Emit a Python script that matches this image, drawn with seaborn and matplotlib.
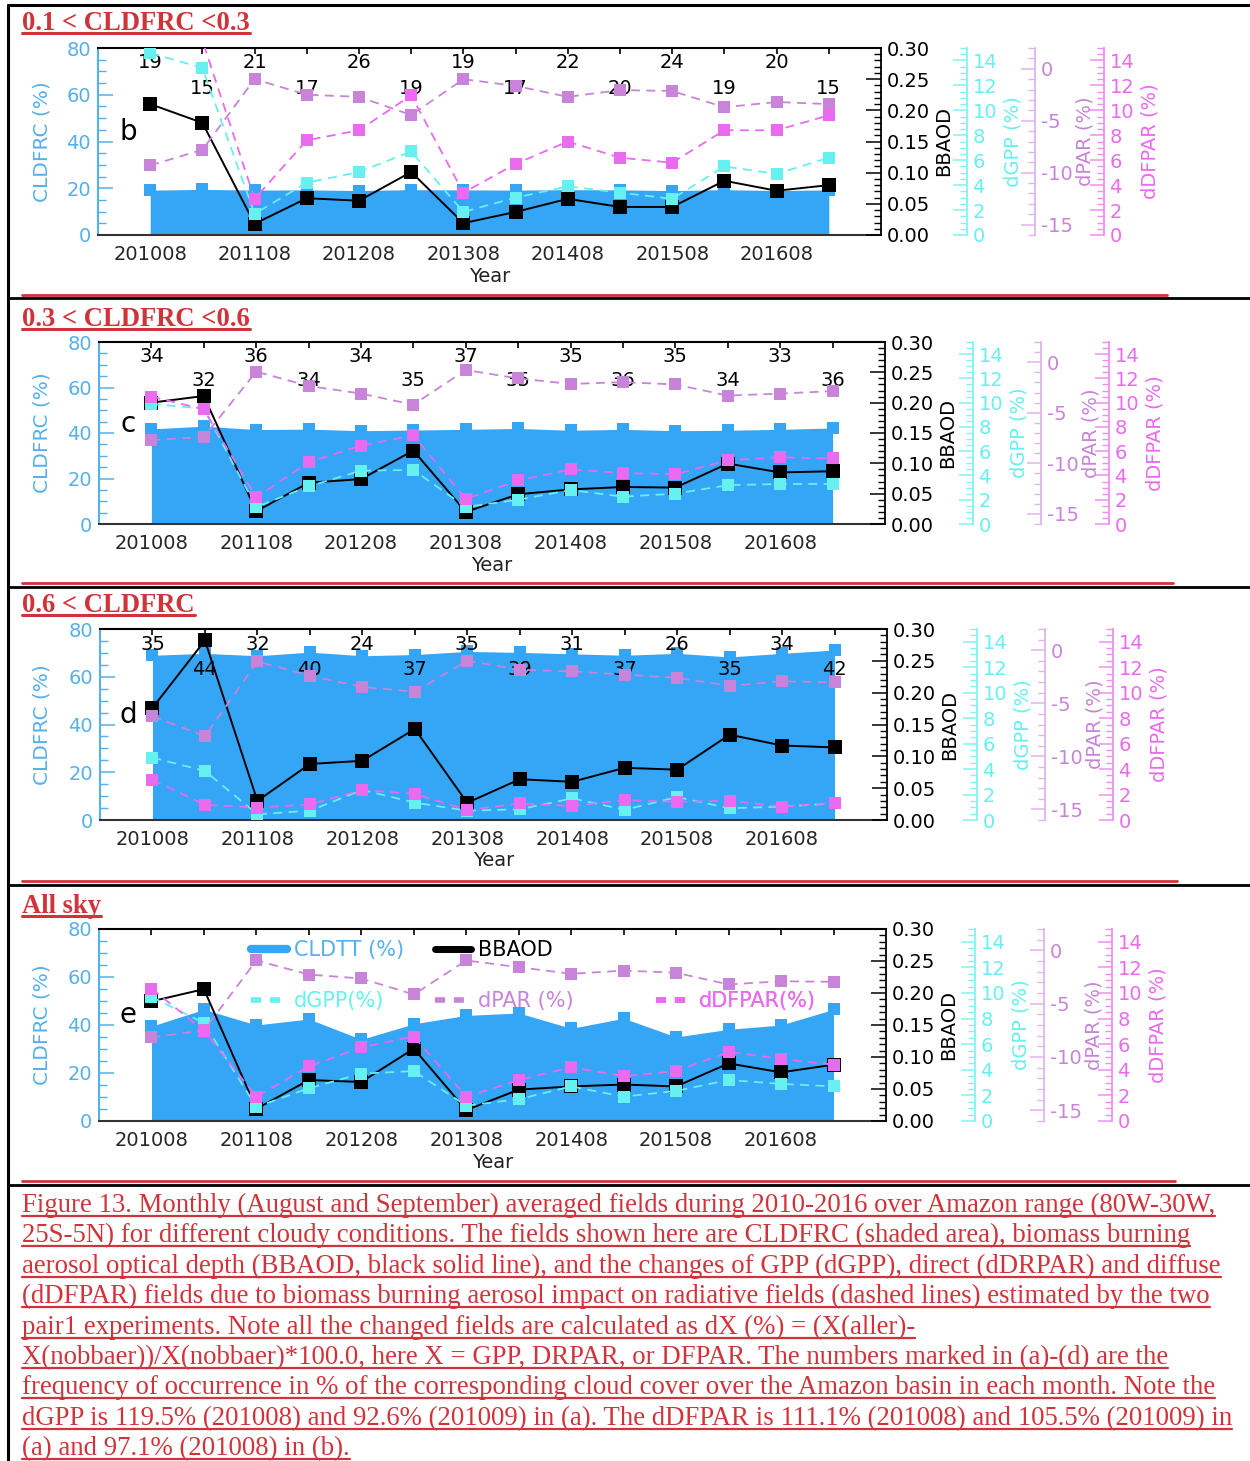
import numpy as np
import matplotlib
matplotlib.use("Agg")
import matplotlib.pyplot as plt
import seaborn as sns
from matplotlib.lines import Line2D
from matplotlib.ticker import MultipleLocator, FormatStrFormatter

sns.set_theme(style="white")
plt.rcParams["font.family"] = ["DejaVu Sans"]

# ---- data ----
months = ["201008", "201009", "201108", "201109", "201208", "201209", "201308",
          "201309", "201408", "201409", "201508", "201509", "201608", "201609"]

freq_b = [19, 15, 21, 17, 26, 19, 19, 17, 22, 20, 24, 19, 20, 15]
freq_c = [34, 32, 36, 34, 34, 35, 37, 35, 35, 36, 35, 34, 33, 36]
freq_d = [35, 44, 32, 40, 24, 37, 35, 39, 31, 37, 26, 35, 34, 42]

cld_b = [19.2, 19.5, 19.2, 19.3, 19.0, 19.4, 19.3, 19.2, 19.4, 19.3, 19.0, 19.4, 19.0, 19.3]
cld_c = [41.8, 43.0, 41.5, 41.7, 41.0, 41.3, 41.6, 42.0, 41.2, 41.6, 41.0, 41.2, 41.6, 42.2]
cld_d = [69.0, 69.8, 68.8, 70.3, 68.8, 69.3, 70.6, 70.2, 69.6, 69.0, 69.8, 68.3, 69.8, 71.2]
cld_e = [39.5, 46.5, 40.0, 42.5, 34.0, 40.5, 44.0, 45.0, 38.6, 42.8, 35.0, 38.2, 40.0, 46.5]

aod_b = [0.210, 0.180, 0.018, 0.059, 0.055, 0.101, 0.019, 0.037, 0.058, 0.045, 0.045, 0.087, 0.071, 0.080]
aod_c = [0.200, 0.211, 0.021, 0.068, 0.074, 0.121, 0.020, 0.049, 0.057, 0.061, 0.060, 0.0996, 0.085, 0.087]
aod_d = [0.176, 0.282, 0.030, 0.088, 0.093, 0.143, 0.027, 0.064, 0.060, 0.082, 0.079, 0.134, 0.117, 0.114]
aod_e = [0.187, 0.206, 0.019, 0.064, 0.061, 0.113, 0.017, 0.049, 0.054, 0.057, 0.054, 0.090, 0.076, 0.088]

gpp_b = [14.6, 13.4, 1.7, 4.2, 5.05, 6.7, 1.85, 3.0, 3.9, 3.4, 2.9, 5.5, 4.9, 6.2]
gpp_c = [9.9, 9.5, 1.4, 3.1, 4.4, 4.45, 1.4, 2.0, 2.8, 2.25, 2.5, 3.2, 3.3, 3.3]
gpp_d = [4.9, 3.85, 0.45, 0.73, 2.36, 1.36, 0.73, 0.84, 1.7, 0.8, 1.8, 0.92, 1.05, 1.3]
gpp_e = [9.7, 7.65, 1.1, 2.56, 3.7, 3.9, 1.2, 1.7, 2.7, 1.9, 2.35, 3.2, 2.9, 2.7]

par_b = [-9.3, -7.8, -1.0, -2.5, -2.7, -4.45, -1.0, -1.65, -2.7, -2.05, -2.14, -3.7, -3.2, -3.4]
par_c = [-7.7, -7.4, -0.93, -2.35, -3.1, -4.2, -0.77, -1.6, -2.15, -1.97, -2.2, -3.3, -3.1, -2.86]
par_d = [-6.2, -8.1, -1.06, -2.4, -3.47, -3.9, -1.0, -1.84, -2.0, -2.3, -2.6, -3.35, -2.93, -3.03]
par_e = [-8.16, -7.5, -0.95, -2.27, -2.64, -4.14, -0.95, -1.58, -2.2, -1.9, -2.1, -3.2, -2.9, -2.95]

dfpar_b = [97.1, 15.6, 2.9, 7.6, 8.4, 11.2, 3.4, 5.7, 7.5, 6.2, 5.8, 8.4, 8.4, 9.6]
dfpar_c = [10.5, 9.45, 2.2, 5.1, 6.45, 7.3, 2.06, 3.6, 4.5, 4.2, 4.1, 5.25, 5.5, 5.4]
dfpar_d = [3.15, 1.2, 0.97, 1.23, 2.36, 2.05, 0.79, 1.3, 1.1, 1.57, 1.42, 1.52, 1.05, 1.36]
dfpar_e = [10.35, 7.05, 1.9, 4.26, 5.75, 6.6, 1.9, 3.2, 4.2, 3.5, 3.9, 5.4, 4.86, 4.4]

caption = [
    "Figure 13. Monthly (August and September) averaged fields during 2010-2016 over Amazon range (80W-30W,",
    "25S-5N) for different cloudy conditions. The fields shown here are CLDFRC (shaded area), biomass burning",
    "aerosol optical depth (BBAOD, black solid line), and the changes of GPP (dGPP), direct (dDRPAR) and diffuse",
    "(dDFPAR) fields due to biomass burning aerosol impact on radiative fields (dashed lines) estimated by the two",
    "pair1 experiments. Note all the changed fields are calculated as dX (%) = (X(aller)-",
    "X(nobbaer))/X(nobbaer)*100.0, here X = GPP, DRPAR, or DFPAR. The numbers marked in (a)-(d) are the",
    "frequency of occurrence in % of the corresponding cloud cover over the Amazon basin in each month. Note the",
    "dGPP is 119.5% (201008) and 92.6% (201009) in (a). The dDFPAR is 111.1% (201008) and 105.5% (201009) in",
    "(a) and 97.1% (201008) in (b).",
]

# ---- styles ----
FILL = "#35a5f5"
LEFTC = "#55b0ee"
CYAN = "#66f0f0"
CYAN_AX = "#80f4f4"
PLUM = "#c884d8"
PLUM_AX = "#e2b4ec"
MAG = "#ea6af0"
MAG_AX = "#f08ef4"
RED = "#d0343a"
W, H = 1250, 1461

panels = [
    dict(title="0.1 < CLDFRC <0.3", tb=30, letter="b", box=(98, 48, 881, 235),
         sp=(967, 1035, 1104), cld=cld_b, aod=aod_b, gpp=gpp_b, par=par_b, dfpar=dfpar_b,
         freq=freq_b, rule=(295, 1167), sep=298),
    dict(title="0.3 < CLDFRC <0.6", tb=326, letter="c", box=(99, 342, 885, 524),
         sp=(973, 1041, 1109), cld=cld_c, aod=aod_c, gpp=gpp_c, par=par_c, dfpar=dfpar_c,
         freq=freq_c, rule=(583, 1173), sep=587),
    dict(title="0.6 < CLDFRC", tb=612, letter="d", box=(100, 629, 887, 820),
         sp=(977, 1045, 1113), cld=cld_d, aod=aod_d, gpp=gpp_d, par=par_d, dfpar=dfpar_d,
         freq=freq_d, rule=(881, 1177), sep=885),
    dict(title="All sky", tb=913, letter="e", box=(99, 929, 886, 1121),
         sp=(975, 1044, 1112), cld=cld_e, aod=aod_e, gpp=gpp_e, par=par_e, dfpar=dfpar_e,
         freq=None, rule=(1181, 1175), sep=1185),
]

fig = plt.figure(figsize=(W / 100, H / 100), dpi=100)
fig.patch.set_facecolor("white")


def hline(y, x0, x1, color, lw):
    fig.add_artist(Line2D([x0 / W, x1 / W], [1 - y / H, 1 - y / H],
                          transform=fig.transFigure, color=color, lw=lw))


def style_twin(a, color, axcolor, pos, lo, hi, major, minor, fmt, label, lab_x):
    for s in ("left", "top", "bottom"):
        a.spines[s].set_visible(False)
    a.spines["right"].set_position(("axes", pos))
    a.spines["right"].set_color(axcolor)
    a.spines["right"].set_linewidth(1.3)
    a.set_ylim(lo, hi)
    a.yaxis.set_major_locator(MultipleLocator(major))
    a.yaxis.set_minor_locator(MultipleLocator(minor))
    a.yaxis.set_major_formatter(FormatStrFormatter(fmt))
    a.tick_params(axis="y", which="major", direction="in", length=10, width=1.1,
                  color=axcolor, labelcolor=color, labelsize=14, pad=4)
    a.tick_params(axis="y", which="minor", direction="in", length=5, width=1.0, color=axcolor)
    a.set_ylabel(label, color=color, fontsize=14)
    a.yaxis.set_label_coords(lab_x, 0.5)
    a.yaxis.label.set_va("center")
    a.grid(False)


x = np.arange(len(months))
dash = (0, (5, 3.5))

for p in panels:
    l, t, r, b = p["box"]
    wpx = r - l
    ax = fig.add_axes([l / W, 1 - b / H, wpx / W, (b - t) / H])
    ax.set_facecolor("none")
    ax.fill_between(x, 0, p["cld"], color=FILL, lw=0, zorder=1)
    ax.plot(x, p["cld"], "s", color=FILL, ms=8.5, mew=0, zorder=1)
    ax.set_xlim(-1, 14)
    ax.set_ylim(0, 80)
    ax.set_xticks(x[::2])
    ax.set_xticklabels(months[::2])
    ax.set_xticks(x, minor=True)
    ax.tick_params(axis="x", which="both", bottom=False, top=True, direction="in",
                   length=4, width=1.2, color="black", labelsize=14, pad=7)
    ax.yaxis.set_major_locator(MultipleLocator(20))
    ax.yaxis.set_minor_locator(MultipleLocator(5))
    ax.tick_params(axis="y", which="major", left=True, direction="in", length=11, width=1.1,
                   color=LEFTC, labelcolor=LEFTC, labelsize=14, pad=5)
    ax.tick_params(axis="y", which="minor", left=True, direction="in", length=5.5, width=1.0,
                   color=LEFTC)
    ax.spines["left"].set_color(LEFTC)
    ax.spines["right"].set_visible(False)
    ax.spines["top"].set_color("black")
    ax.spines["bottom"].set_color("#333333")
    for s in ("left", "top", "bottom"):
        ax.spines[s].set_linewidth(1.5)
    ax.set_xlabel("Year", fontsize=14, color="#222222", labelpad=2)
    ax.set_ylabel("CLDFRC (%)", fontsize=14.5, color=LEFTC)
    ax.yaxis.set_label_coords((42 - l) / wpx, 0.5)
    ax.yaxis.label.set_va("center")
    ax.grid(False)

    if p["freq"] is not None:
        for i, f in enumerate(p["freq"]):
            yy = 0.92 if i % 2 == 0 else 0.786
            ax.text(x[i], yy, str(f), transform=ax.get_xaxis_transform(), ha="center",
                    va="center", fontsize=14, color="black")
    ax.text((128 - l) / wpx, 0.55, p["letter"], transform=ax.transAxes, fontsize=20,
            ha="center", va="center", color="black")

    # BBAOD
    axb = ax.twinx()
    sns.lineplot(x=x, y=p["aod"], ax=axb, color="black", marker="s", ms=9.4, mew=0,
                 lw=1.4, zorder=3)
    style_twin(axb, "black", "black", 1.0, 0, 0.30, 0.05, 0.01, "%.2f", "BBAOD",
               (r + 63 - l) / wpx)
    axb.tick_params(axis="y", which="major", length=11)

    # dGPP
    axg = ax.twinx()
    sns.lineplot(x=x, y=p["gpp"], ax=axg, color=CYAN, marker="s", ms=8.6, mew=0,
                 lw=1.3, linestyle=dash, zorder=3)
    style_twin(axg, CYAN, CYAN_AX, (p["sp"][0] - l) / wpx, 0, 15, 2, 0.5, "%d",
               "dGPP (%)", (p["sp"][0] + 46 - l) / wpx)

    # dPAR
    axp = ax.twinx()
    sns.lineplot(x=x, y=p["par"], ax=axp, color=PLUM, marker="s", ms=8.6, mew=0,
                 lw=1.3, linestyle=dash, zorder=3)
    style_twin(axp, PLUM, PLUM_AX, (p["sp"][1] - l) / wpx, -16, 2, 5, 1, "%d",
               "dPAR (%)", (p["sp"][1] + 50 - l) / wpx)

    # dDFPAR
    axd = ax.twinx()
    sns.lineplot(x=x, y=p["dfpar"], ax=axd, color=MAG, marker="s", ms=8.6, mew=0,
                 lw=1.3, linestyle=dash, zorder=3)
    style_twin(axd, MAG, MAG_AX, (p["sp"][2] - l) / wpx, 0, 15, 2, 0.5, "%d",
               "dDFPAR (%)", (p["sp"][2] + 46 - l) / wpx)
    for a in (axb, axg, axp, axd):
        a.set_xlim(-1, 14)

    if p["letter"] == "e":
        entries = [
            (Line2D([], [], color=FILL, lw=6), "CLDTT (%)", LEFTC, (251 - l) / wpx, 0.89),
            (Line2D([], [], color="black", lw=5), "BBAOD", "black", (435 - l) / wpx, 0.89),
            (Line2D([], [], color=CYAN, lw=4, dashes=(1.8, 1.6)), "dGPP(%)", CYAN, (251 - l) / wpx, 0.625),
            (Line2D([], [], color=PLUM, lw=4, dashes=(1.8, 1.6)), "dPAR (%)", PLUM, (435 - l) / wpx, 0.625),
            (Line2D([], [], color=MAG, lw=4, dashes=(1.8, 1.6)), "dDFPAR(%)", MAG, (656 - l) / wpx, 0.625),
        ]
        for h, lab, c, lx, ly in entries:
            leg = axd.legend(handles=[h], labels=[lab], loc="center left",
                             bbox_to_anchor=(lx, ly), frameon=False, fontsize=15,
                             handlelength=1.75, handletextpad=0.3, borderpad=0,
                             borderaxespad=0, labelcolor=c)
            axd.add_artist(leg)

    # page decorations
    hline(p["rule"][0], 22, p["rule"][1], RED, 2.0)
    hline(p["sep"], 8, W, "black", 2.0)

hline(5, 8, W, "black", 2.2)
fig.add_artist(Line2D([8 / W, 8 / W], [1 - 5 / H, 0], transform=fig.transFigure,
                      color="black", lw=2.2))

# titles and caption (red Times, underlined)
red_texts = []
for p in panels:
    tt = fig.text(22 / W, 1 - p["tb"] / H, p["title"], fontsize=19.2, fontweight="bold",
                  family=["Liberation Serif"], color=RED, va="baseline", ha="left")
    red_texts.append(tt)

cap_texts = []
for k, line in enumerate(caption):
    yb = 1212 + k * 30.4
    ct = fig.text(22 / W, 1 - yb / H, line, fontsize=19, family=["Liberation Serif"],
                  color=RED, va="baseline", ha="left")
    cap_texts.append((ct, yb))

fig.canvas.draw()
rend = fig.canvas.get_renderer()
w0 = cap_texts[0][0].get_window_extent(rend).width
fs = 19 * (1218 - 22) / w0
for ct, yb in cap_texts:
    ct.set_fontsize(fs)
fig.canvas.draw()
for ct, yb in cap_texts:
    bb = ct.get_window_extent(rend)
    hline(yb + 4, 22, bb.x1, RED, 1.6)
for p, tt in zip(panels, red_texts):
    bb = tt.get_window_extent(rend)
    hline(p["tb"] + 3, 22, bb.x1, RED, 2.2)

fig.savefig("out.png", dpi=100, facecolor="white")
